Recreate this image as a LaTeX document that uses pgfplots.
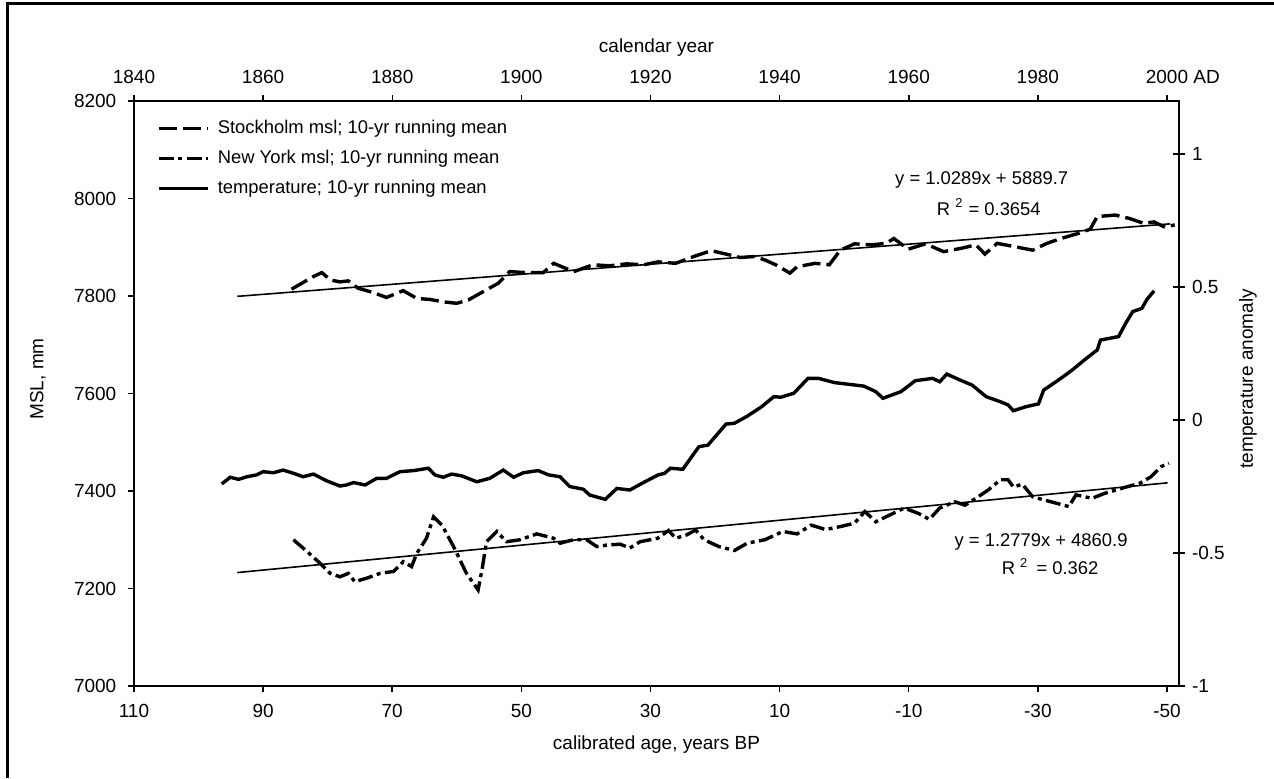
\documentclass[border=0pt]{standalone}
\usepackage{fontspec}
\setmainfont{Liberation Sans}
\usepackage{pgfplots}
\pgfplotsset{compat=1.18}

\pgfplotsset{
  base/.style={
    scale only axis, width=522.5pt, height=292.5pt,
    at={(0,0)}, anchor=south west,
    axis line style={line width=0.75pt},
    every tick/.style={black, line width=0.75pt},
    major tick length=3pt,
    tick align=outside,
    /pgf/number format/assume math mode=true,
    /pgf/number format/1000 sep={},
    scaled ticks=false,
    tick label style={font=\fontsize{9.5}{11}\selectfont},
    label style={font=\fontsize{9.5}{11}\selectfont},
  }
}

\begin{document}
\begin{tikzpicture}
\useasboundingbox (-67pt,-46pt) rectangle (570pt,343pt);
\draw[line width=1.5pt] (-63pt,-46pt) -- (-63pt,341pt) -- (570pt,341pt);

% main axis: BP (bottom) and MSL (left)
\begin{axis}[base,
  x dir=reverse, xmin=-51.86, xmax=110,
  ymin=7000, ymax=8200, ytick={7000,7200,...,8200},
  xtick={110,90,...,-50},
  xtick pos=bottom, ytick pos=left,
  yticklabel style={xshift=-2.3pt},
  xticklabel style={yshift=-2.5pt},
  xlabel={calibrated age, years BP},
  xlabel style={at={(axis description cs:0.5,-0.1009)}, anchor=center},
  ylabel={MSL, mm},
  ylabel style={at={(axis description cs:-0.0919,0.525)}, anchor=center},
  legend style={draw=none, fill=none, at={(axis description cs:0.022,0.972)}, anchor=north west,
    font=\fontsize{9.2}{11}\selectfont, row sep=4pt, inner sep=0pt,
    nodes={inner sep=1pt, text height=7pt, text depth=2pt}},
  legend cell align=left,
  legend image code/.code={\draw[#1] (0pt,0pt) -- (24.5pt,0pt); \path (27.5pt,0pt);},
]
\addplot[black, line width=1.7pt, dash pattern=on 9pt off 3pt] coordinates {
(85.6,7814) (82.2,7840) (80.9,7848) (79.6,7833) (78.1,7829) (76.8,7831) (75.3,7816) (72.9,7807) (70.9,7797) (68.3,7811) (66.2,7795) (64.2,7793) (62.1,7788) (60.0,7785) (58.2,7792) (55.9,7809) (53.6,7826) (51.8,7850) (49.2,7848) (46.6,7848) (45.0,7867) (41.9,7850) (38.9,7864) (36.3,7862) (33.7,7866) (31.1,7864) (28.8,7870) (26.1,7867) (23.3,7881) (20.6,7893) (18.3,7886) (16.1,7879) (13.9,7881) (12.3,7874) (10.6,7864) (8.4,7847) (7.3,7860) (4.5,7867) (2.3,7864) (0.6,7894) (-1.6,7907) (-4.3,7905) (-6.5,7908) (-7.7,7918) (-9.9,7896) (-12.6,7907) (-15.4,7891) (-18.2,7898) (-20.4,7905) (-21.8,7886) (-23.7,7908) (-26.5,7901) (-29.2,7894) (-31.4,7908) (-33.6,7918) (-36.4,7929) (-38.1,7937) (-39.2,7963) (-42.0,7966) (-44.2,7959) (-46.4,7949) (-48.0,7952) (-49.7,7941) (-51.2,7946)
};
\addlegendentry{Stockholm msl; 10-yr running mean}
\addplot[black, line width=1.7pt, dash pattern=on 7.5pt off 2.2pt on 2pt off 2.2pt] coordinates {
(85.3,7300) (83.2,7276) (81.2,7252) (79.6,7231) (78.1,7224) (76.8,7231) (75.8,7214) (74.0,7221) (71.9,7231) (69.8,7235) (68.3,7255) (67.0,7245) (66.2,7272) (64.7,7303) (63.6,7347) (62.3,7330) (60.5,7286) (58.5,7231) (56.7,7197) (56.1,7238) (55.4,7296) (53.8,7317) (52.3,7296) (50.2,7300) (47.6,7312) (45.0,7303) (44.0,7293) (41.9,7300) (39.9,7300) (38.3,7286) (36.8,7289) (34.7,7291) (33.2,7283) (31.6,7296) (28.9,7303) (27.2,7319) (26.1,7303) (24.4,7310) (23.0,7320) (21.7,7300) (19.4,7286) (17.0,7278) (15.0,7293) (12.3,7300) (9.5,7317) (7.3,7312) (5.1,7330) (2.9,7321) (0.6,7327) (-1.6,7334) (-3.2,7358) (-4.9,7337) (-7.1,7351) (-9.3,7365) (-11.5,7354) (-13.2,7342) (-14.8,7365) (-17.1,7378) (-18.7,7371) (-20.4,7385) (-22.3,7402) (-24.2,7423) (-25.4,7423) (-26.2,7408) (-27.6,7414) (-29.2,7388) (-32.0,7378) (-34.8,7368) (-35.9,7392) (-38.4,7385) (-40.3,7395) (-43.1,7406) (-45.8,7416) (-47.5,7429) (-49.1,7450) (-50.3,7457)
};
\addlegendentry{New York msl; 10-yr running mean}
\addlegendimage{black, line width=1.7pt}
\addlegendentry{temperature; 10-yr running mean}
% linear trend lines
\addplot[black, line width=0.8pt, forget plot] coordinates {(94.0,7799.3) (-50.5,7948.0)};
\addplot[black, line width=0.8pt, forget plot] coordinates {(94.0,7232.7) (-50.1,7416.8)};
\node[font=\fontsize{9.2}{11}\selectfont] at (axis cs:-21.3,8038) {y = 1.0289x + 5889.7};
\node[font=\fontsize{9.2}{11}\selectfont] at (axis cs:-22.4,7983) {R \textsuperscript{2} = 0.3654};
\node[font=\fontsize{9.2}{11}\selectfont] at (axis cs:-30.5,7296) {y = 1.2779x + 4860.9};
\node[font=\fontsize{9.2}{11}\selectfont] at (axis cs:-31.9,7245) {R \textsuperscript{2}\, = 0.362};
\end{axis}

% temperature axis (right)
\begin{axis}[base,
  x dir=reverse, xmin=-51.86, xmax=110,
  ymin=-1, ymax=1.2, ytick={-1,-0.5,0,0.5,1},
  xtick=\empty, ytick pos=right,
  tick align=center, major tick length=6pt,
  ylabel={temperature anomaly},
  ylabel style={at={(axis description cs:1.066,0.525)}, anchor=center, rotate=0},
]
\addplot[black, line width=1.7pt] coordinates {
(96.4,-0.240) (95.1,-0.215) (93.8,-0.223) (92.5,-0.213) (91.0,-0.206) (90.0,-0.194) (88.4,-0.198) (86.9,-0.188) (85.3,-0.200) (83.8,-0.213) (82.2,-0.203) (80.2,-0.228) (78.1,-0.248) (77.1,-0.244) (76.0,-0.235) (74.2,-0.244) (72.4,-0.219) (70.9,-0.219) (68.8,-0.194) (66.7,-0.190) (64.4,-0.181) (63.4,-0.206) (62.1,-0.215) (60.8,-0.203) (59.2,-0.210) (56.9,-0.232) (54.9,-0.219) (52.8,-0.188) (51.2,-0.215) (49.7,-0.198) (47.4,-0.190) (45.8,-0.206) (44.0,-0.213) (42.5,-0.250) (40.4,-0.260) (39.4,-0.282) (37.0,-0.298) (35.2,-0.257) (33.2,-0.263) (31.1,-0.235) (28.8,-0.206) (27.8,-0.200) (26.9,-0.181) (25.0,-0.185) (22.5,-0.100) (21.1,-0.094) (18.3,-0.015) (17.0,-0.012) (15.0,0.015) (12.8,0.050) (10.9,0.088) (9.8,0.086) (7.8,0.101) (5.6,0.157) (4.0,0.157) (1.5,0.141) (-1.6,0.132) (-3.0,0.128) (-4.9,0.107) (-6.0,0.082) (-8.8,0.107) (-11.0,0.148) (-13.7,0.157) (-14.8,0.144) (-15.9,0.173) (-18.2,0.148) (-19.8,0.132) (-22.0,0.088) (-24.2,0.069) (-25.4,0.057) (-26.2,0.035) (-28.1,0.050) (-30.1,0.061) (-30.9,0.113) (-32.8,0.144) (-33.9,0.163) (-35.3,0.188) (-37.2,0.226) (-39.2,0.264) (-39.7,0.301) (-42.5,0.314) (-43.6,0.364) (-44.7,0.408) (-46.1,0.420) (-46.9,0.454) (-48.0,0.486)
};
\end{axis}

% top axis: calendar year
\begin{axis}[base,
  xmin=1840, xmax=2001.86, ymin=0, ymax=1,
  ytick=\empty, xtick pos=top,
  xtick={1840,1860,1880,1900,1920,1940,1960,1980,2000},
  xticklabels={1840,1860,1880,1900,1920,1940,1960,1980,{2000\rlap{ AD}}},
  xticklabel style={yshift=2pt},
  xlabel={calendar year},
  xlabel style={at={(axis description cs:0.5,1.0906)}, anchor=center},
]
\end{axis}
\end{tikzpicture}
\end{document}
